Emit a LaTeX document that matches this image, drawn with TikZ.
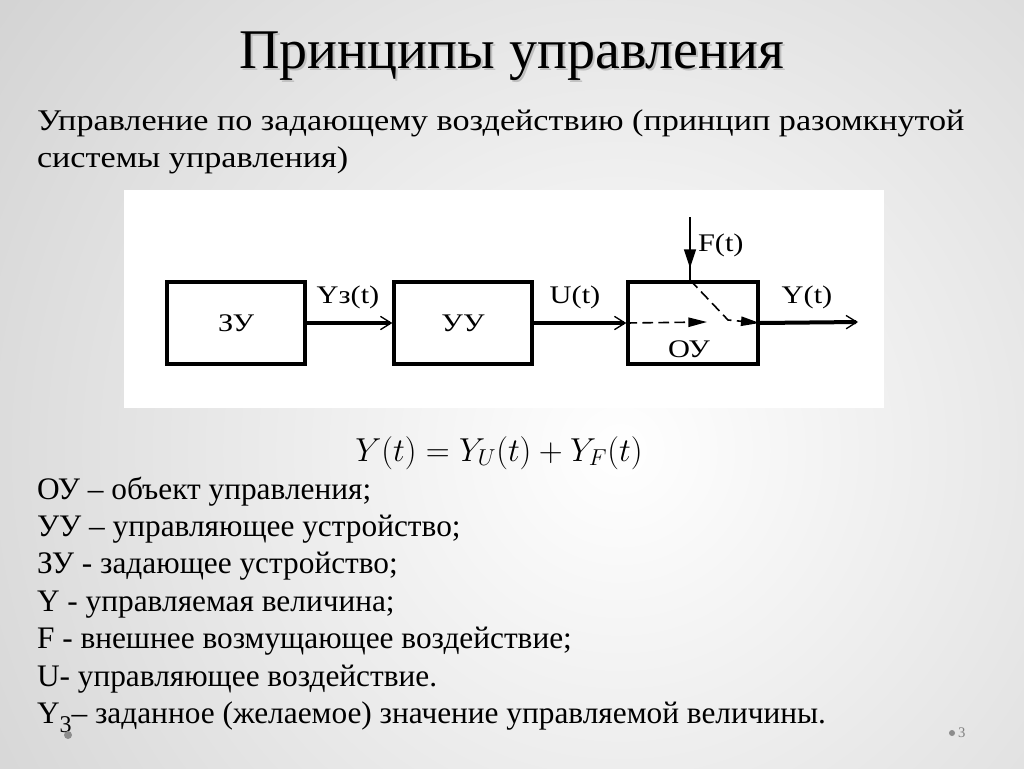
\documentclass[tikz,border=0pt]{standalone}
\usepackage{fontspec}
\setmainfont{Liberation Serif}
\newfontfamily\widefont{Liberation Serif}[FakeStretch=1.14]
\newfontfamily\diagfont{Liberation Serif}[FakeStretch=1.2]
\usetikzlibrary{arrows.meta}

\begin{document}
\begin{tikzpicture}
      [x=0.75pt,y=-0.75pt,
       every node/.style={inner sep=0pt,outer sep=0pt},
       txt/.style={anchor=base west,font=\fontsize{23.5}{28}\selectfont},
       intro/.style={anchor=base west,font=\widefont\fontsize{22.5}{27}\selectfont},
       blk/.style={draw,line width=3pt,minimum height=61.5pt,outer sep=1.5pt},
       lbl/.style={anchor=base,font=\diagfont\fontsize{19}{22}\selectfont},
       sig/.style={line width=3pt,-{Straight Barb[length=8pt,width=10pt,line width=1pt]}},
       inner/.style={line width=1.2pt,dash pattern=on 8pt off 4pt,-{Triangle[length=14pt,width=7pt]}}]
      % slide
      \clip (0,0) rectangle (1024,768);
      \shade[inner color=white,outer color=black!20] (620,450) circle (900);
      \node[anchor=base,font=\fontsize{42}{46}\selectfont,text=black!25] at (514,70) {Принципы управления};
      \node[anchor=base,font=\fontsize{42}{46}\selectfont] (title) at (512,68) {Принципы управления};
      \node[intro] (intro1) at (37,130) {Управление по задающему воздействию (принцип разомкнутой};
      \node[intro] (intro2) at (37,167) {системы управления)};

      % scheme
      \fill[white] (124,190) rectangle (884,408);
      \node[blk,minimum width=103.5pt,font=\diagfont\fontsize{19}{22}\selectfont] (zu) at (236,323) {ЗУ};
      \node[blk,minimum width=103pt,font=\diagfont\fontsize{19}{22}\selectfont] (uu) at (463,323) {УУ};
      \node[blk,minimum width=97pt] (ou) at (693,323) {};
      \node[lbl] (oulbl) at (689,357) {ОУ};
      \coordinate (fin) at (690,217);
      \coordinate (fhead) at (690,268);
      \coordinate (fjoin) at (728,320);
      \coordinate (umid) at (707,322);
      \coordinate (yout) at (858,322);

      \draw[sig] (zu.east) -- (uu.west);
      \draw[sig] (uu.east) -- (ou.west);
      \draw[sig] (ou.east) -- (yout);
      \draw[line width=1pt] (fin) -- (ou.north -| fin);
      \draw[line width=1pt,-{Triangle[length=14pt,width=9pt]}] (fin) -- (fhead);
      \draw[inner] (ou.west) -- (umid);
      \draw[inner] (ou.north -| fin) -- (fjoin) -- (ou.east);

      \node[lbl] (yz) at (348,303) {Yз(t)};
      \node[lbl] (ut) at (575,303) {U(t)};
      \node[lbl] (yt) at (807,303) {Y(t)};
      \node[lbl,anchor=base west] (ft) at (698,251) {F(t)};

      % formula and legend
      \node[anchor=base,font=\fontsize{27}{30}\selectfont] (eq) at (499,461) {$Y(t)=Y_U(t)+Y_F(t)$};
      \foreach \i/\t in {1/{ОУ – объект управления;},
                         2/{УУ – управляющее устройство;},
                         3/{ЗУ - задающее устройство;},
                         4/{Y - управляемая величина;},
                         5/{F - внешнее возмущающее воздействие;},
                         6/{U- управляющее воздействие.},
                         7/{Y\raisebox{-0.3em}{\fontsize{18}{18}\selectfont 3}– заданное (желаемое) значение управляемой величины.}}
        \node[txt] (l\i) at (37,{499+37.4*(\i-1)}) {\t};

      \fill[black!45] (68,735) circle (4);
      \fill[black!45] (952,733) circle (3);
      \node[anchor=west,font=\fontsize{11}{12}\selectfont,text=black!50] (page) at (958,733) {3};
    \end{tikzpicture}
\end{document}
